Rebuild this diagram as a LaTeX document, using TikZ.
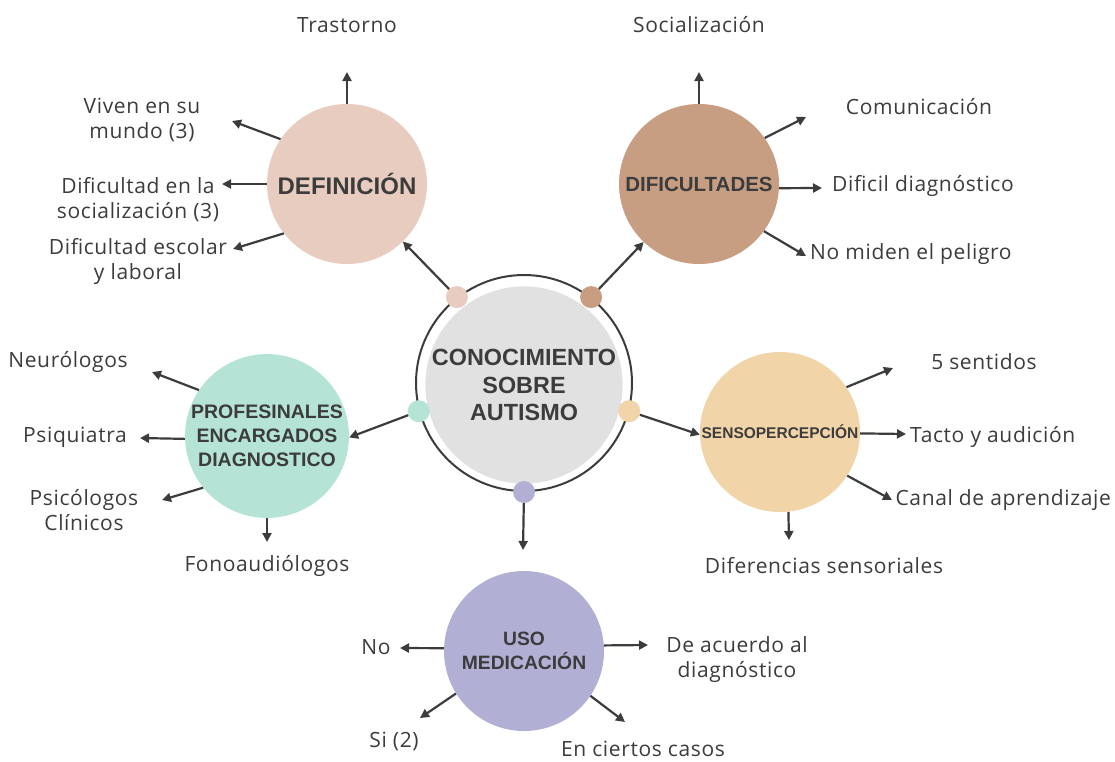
\documentclass[tikz,border=0pt]{standalone}
\usepackage{fontspec}
\setmainfont{Open Sans}[LetterSpace=3]
\newfontfamily\headfont{Liberation Sans}
\usetikzlibrary{arrows.meta}

\definecolor{ink}{HTML}{3C3C3C}
\definecolor{cdef}{HTML}{E8CCBF}
\definecolor{cdif}{HTML}{C89E83}
\definecolor{csen}{HTML}{F1D5A9}
\definecolor{cpro}{HTML}{B5E3D6}
\definecolor{cmed}{HTML}{B1AFD4}
\definecolor{cmid}{HTML}{E1E1E1}

\begin{document}
\begin{tikzpicture}[x=1pt,y=-1pt,
  topic/.style={circle, minimum size=160pt, inner sep=0pt, text=ink, align=center},
  hd/.style 2 args={font=\headfont\bfseries\fontsize{#1}{#2}\selectfont},
  dot/.style={circle, minimum size=22pt, inner sep=0pt},
  lbl/.style={text=ink, font=\fontsize{21}{25}\selectfont, align=center, inner sep=0pt},
  arr/.style={draw=ink, line width=2.2pt, -{Triangle[length=9pt,width=9pt]}},
]
\useasboundingbox[fill=white] (0,0) rectangle (1115,761);

% central hub
\node[circle, draw=ink, line width=2pt, minimum size=216pt, inner sep=0pt] (ring) at (524,383) {};
\node[circle, fill=cmid, minimum size=186pt, inner sep=0pt, text=ink, align=center, hd={23.4}{27.5}] (core) at (524,385)
  {CONOCIMIENTO\\SOBRE\\AUTISMO};
\node[dot, fill=cdef] (dTL) at (ring.128) {};
\node[dot, fill=cdif] (dTR) at (ring.52.5) {};
\node[dot, fill=cpro] (dL)  at (ring.195.4) {};
\node[dot, fill=csen] (dR)  at (ring.-15.6) {};
\node[dot, fill=cmed] (dB)  at (ring.270) {};

% topic circles
\node[topic, fill=cdef, hd={24}{28}] (def) at (347,184) {DEFINICIÓN};
\node[topic, fill=cdif, hd={20.5}{23}] (dif) at (699,184) {DIFICULTADES};
\node[topic, fill=csen, hd={15.5}{18}] (sen) at (780,432) {SENSOPERCEPCIÓN};
\node[topic, fill=cpro, hd={19.5}{24}] (pro) at (267,436) {PROFESINALES\\ENCARGADOS\\DIAGNOSTICO};
\node[topic, fill=cmed, hd={19.3}{24}] (med) at (524,651) {USO\\MEDICACIÓN};

% hub to topics
\coordinate (medTop) at (523,550);
\draw[arr] (dTL) -- (def);
\draw[arr] (dTR) -- (dif);
\draw[arr] (dL) -- (pro.-1);
\draw[arr] (dR) -- (sen.182);
\draw[arr] (dB) -- (medTop);

% DEFINICIÓN
\coordinate (e1) at (347,72);
\coordinate (e2) at (232,121);
\coordinate (e3) at (222,184);
\coordinate (e4) at (233,249);
\draw[arr] (def.90) -- (e1);
\draw[arr] (def.146) -- (e2);
\draw[arr] (def.180) -- (e3);
\draw[arr] (def.218) -- (e4);
\node[lbl] (l1) at (347,25) {Trastorno};
\node[lbl] (l2) at (142,120) {Viven en su\\mundo (3)};
\node[lbl] (l3) at (138,200) {Dificultad en la\\socialización (3)};
\node[lbl] (l4) at (138,261) {Dificultad escolar\\y laboral};

% DIFICULTADES
\coordinate (f1) at (699,72);
\coordinate (f2) at (806,117);
\coordinate (f3) at (822,188);
\coordinate (f4) at (806,256);
\draw[arr] (dif.90) -- (f1);
\draw[arr] (dif.35) -- (f2);
\draw[arr] (dif.-3) -- (f3);
\draw[arr] (dif.-36) -- (f4);
\node[lbl] (m1) at (699,25) {Socialización};
\node[lbl] (m2) at (919,107) {Comunicación};
\node[lbl, anchor=west] (m3) at (832,186) {Dificil diagnóstico};
\node[lbl, anchor=west] (m4) at (810,254) {No miden el peligro};

% SENSOPERCEPCIÓN
\coordinate (s1) at (893,368);
\coordinate (s2) at (906,434);
\coordinate (s3) at (892,500);
\coordinate (s4) at (789,540);
\draw[arr] (sen.34) -- (s1);
\draw[arr] (sen.-1) -- (s2);
\draw[arr] (sen.-33) -- (s3);
\draw[arr] (sen.-84) -- (s4);
\node[lbl] (n1) at (984,362) {5 sentidos};
\node[lbl, anchor=west] (n2) at (910,437) {Tacto y audición};
\node[lbl, anchor=east] (n3) at (1111,500) {Canal de aprendizaje};
\node[lbl] (n4) at (824,566) {Diferencias sensoriales};

% PROFESIONALES
\coordinate (p1) at (152,372);
\coordinate (p2) at (140,438);
\coordinate (p3) at (162,500);
\coordinate (p4) at (267,542);
\draw[arr] (pro.146) -- (p1);
\draw[arr] (pro.182) -- (p2);
\draw[arr] (pro.219) -- (p3);
\draw[arr] (pro.270) -- (p4);
\node[lbl] (q1) at (68,362) {Neurólogos};
\node[lbl] (q2) at (75,437) {Psiquiatra};
\node[lbl] (q3) at (84,510) {Psicólogos\\Clínicos};
\node[lbl] (q4) at (267,566) {Fonoaudiólogos};

% USO MEDICACIÓN
\coordinate (u1) at (400,648);
\coordinate (u2) at (648,645);
\coordinate (u3) at (420,718);
\coordinate (u4) at (625,722);
\draw[arr] (med.178) -- (u1);
\draw[arr] (med.4) -- (u2);
\draw[arr] (med.212) -- (u3);
\draw[arr] (med.-34) -- (u4);
\node[lbl] (r1) at (376,647) {No};
\node[lbl] (r2) at (737,660) {De acuerdo al\\diagnóstico};
\node[lbl] (r3) at (394,741) {Si (2)};
\node[lbl] (r4) at (643,749) {En ciertos casos};
\end{tikzpicture}
\end{document}
